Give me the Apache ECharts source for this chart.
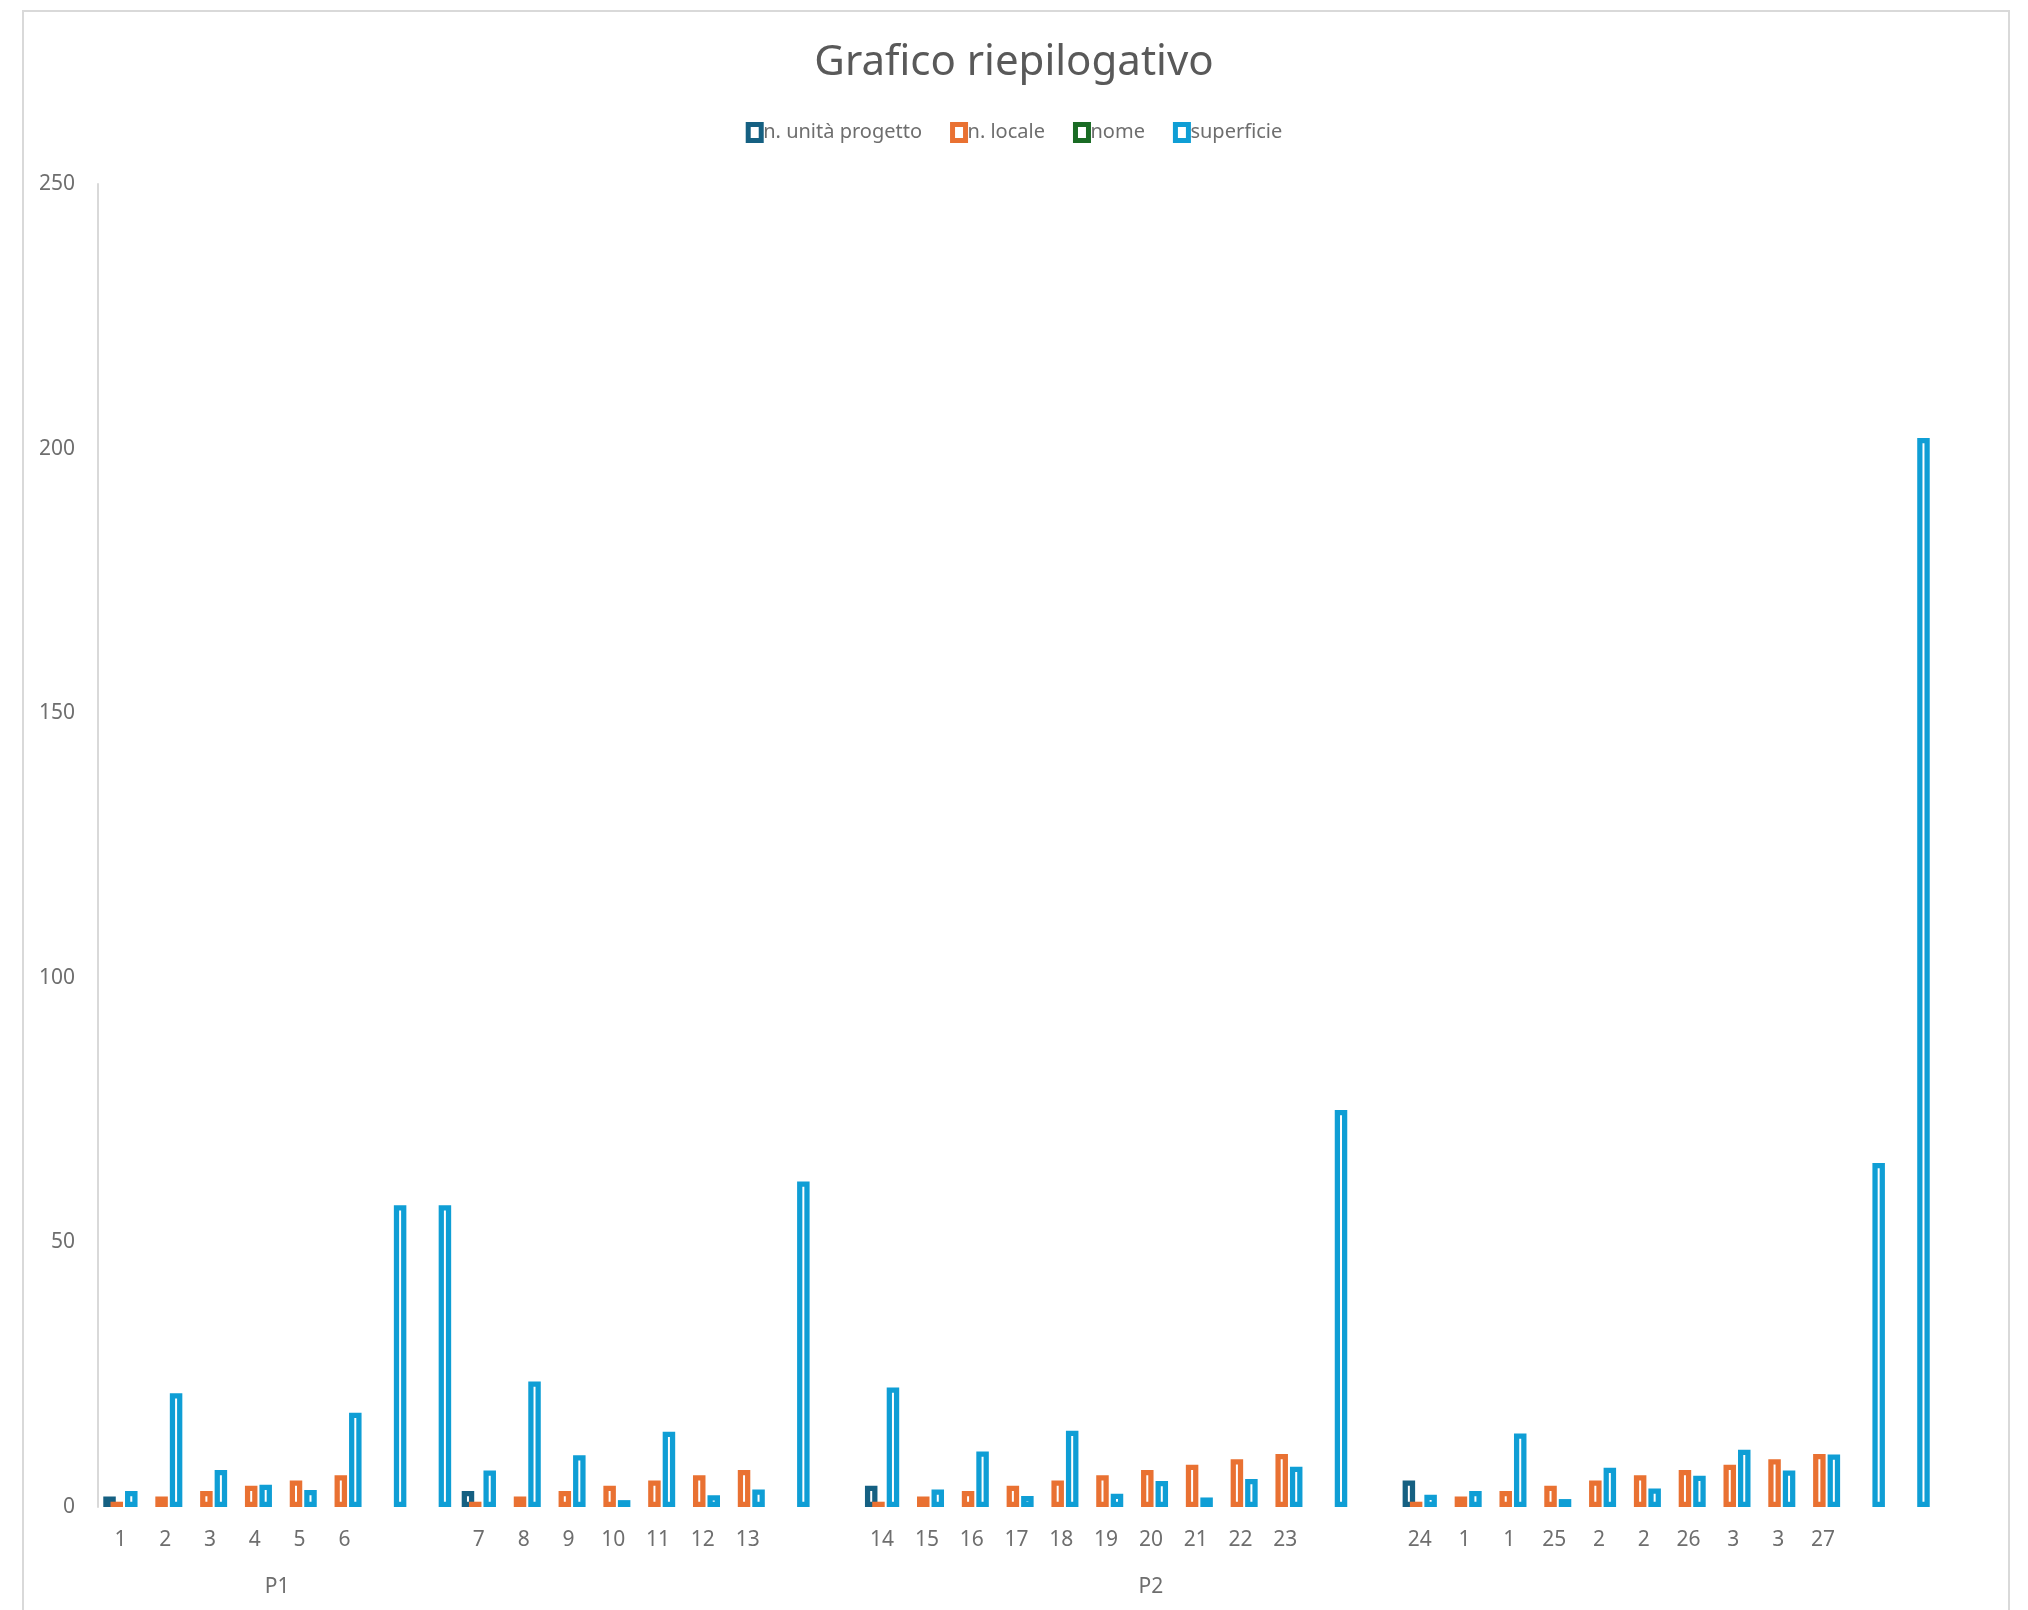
<!DOCTYPE html>
<html>
<head>
<meta charset="utf-8">
<script src="https://cdn.jsdelivr.net/npm/echarts@6/dist/echarts.min.js"></script>
<style>
  html, body { margin: 0; padding: 0; background: #fff; }
  #chart { width: 2028px; height: 1610px; }
</style>
</head>
<body>
<div id="chart"></div>
<script>
// category labels (inner level of the axis)
const categories = [
  "1", "2", "3", "4", "5", "6", "", "",
  "7", "8", "9", "10", "11", "12", "13", "", "",
  "14", "15", "16", "17", "18", "19", "20", "21", "22", "23", "", "",
  "24", "1", "1", "25", "2", "2", "26", "3", "3", "27", "", ""
];

// outer level of the axis: label + first/last category index
const groupLabels = ["P1", "P2"];
const groupSpans = [[0, 7], [8, 38]];

const seriesNames = ["n. unità progetto", "n. locale", "nome", "superficie"];
const seriesColors = ["#156082", "#E97132", "#196B24", "#0F9ED5"];

const unitaValues = [
  2, null, null, null, null, null, null, null,
  3, null, null, null, null, null, null, null, null,
  4, null, null, null, null, null, null, null, null, null, null, null,
  5, null, null, null, null, null, null, null, null, null, null, null
];
const localeValues = [
  1, 2, 3, 4, 5, 6, null, null,
  1, 2, 3, 4, 5, 6, 7, null, null,
  1, 2, 3, 4, 5, 6, 7, 8, 9, 10, null, null,
  1, 2, 3, 4, 5, 6, 7, 8, 9, 10, null, null
];
// "nome" is text in the sheet, nothing gets drawn
const nomeValues = [];
const superficieValues = [
  3, 21.5, 7, 4.2, 3.2, 17.8, 57, 57,
  6.9, 23.7, 9.8, 1.3, 14.2, 2.2, 3.3, 61.5, null,
  22.6, 3.3, 10.5, 2.1, 14.4, 2.5, 4.9, 1.8, 5.3, 7.6, 75, null,
  2.3, 3, 13.9, 1.5, 7.4, 3.5, 5.9, 10.8, 6.9, 9.9, 65, 202
];

const yTicks = { min: 0, max: 250, interval: 50 };

const groupCenters = groupSpans.map((s) => (s[0] + s[1]) / 2);
const allValues = [unitaValues, localeValues, nomeValues, superficieValues];

const titleColor = "#595959";
const labelColor = "#6e6e6e";
const fontFamily = "'Noto Sans', 'Open Sans', sans-serif";

const chart = echarts.init(document.getElementById("chart"));

const option = {
  animation: false,
  textStyle: { fontFamily: fontFamily },
  title: {
    text: "Grafico riepilogativo",
    left: "center",
    top: 42,
    padding: 0,
    textStyle: {
      color: titleColor,
      fontSize: 42,
      fontWeight: "normal",
      fontFamily: fontFamily,
    },
  },
  legend: {
    top: 122,
    left: "center",
    padding: 0,
    icon: "rect",
    itemWidth: 13,
    itemHeight: 16,
    itemGap: 28,
    itemStyle: { borderWidth: 5 },
    textStyle: { color: labelColor, fontSize: 20, padding: [0, 0, 0, -3] },
    data: seriesNames,
  },
  grid: {
    left: 98,
    right: 93,
    top: 184,
    bottom: 103,
  },
  xAxis: [
    {
      type: "category",
      data: categories,
      axisLine: { show: false },
      axisTick: { show: false },
      axisLabel: {
        interval: 0,
        margin: 23,
        color: labelColor,
        fontSize: 21,
      },
    },
    {
      // outer level labels (P1, P2)
      type: "value",
      gridIndex: 0,
      position: "bottom",
      offset: 50,
      min: -0.5,
      max: categories.length - 0.5,
      axisLine: { show: false },
      axisTick: { show: false },
      splitLine: { show: false },
      axisLabel: {
        customValues: groupCenters,
        margin: 20,
        color: labelColor,
        fontSize: 21,
        formatter: (v) => {
          const i = groupCenters.indexOf(v);
          return i >= 0 ? groupLabels[i] : "";
        },
      },
    },
  ],
  yAxis: {
    type: "value",
    min: yTicks.min,
    max: yTicks.max,
    interval: yTicks.interval,
    axisLine: {
      show: true,
      onZero: false,
      lineStyle: { color: "#d9d9d9", width: 2 },
    },
    axisTick: { show: false },
    splitLine: { show: false },
    axisLabel: { color: labelColor, fontSize: 21, margin: 23 },
  },
  graphic: [
    {
      type: "rect",
      silent: true,
      shape: { x: 23, y: 11, width: 1986, height: 1640 },
      style: { fill: "none", stroke: "#d9d9d9", lineWidth: 2 },
    },
  ],
  series: seriesNames.map((name, i) => ({
    name: name,
    type: "bar",
    xAxisIndex: 0,
    data: allValues[i],
    barWidth: 12.5,
    barGap: "-42%",
    color: seriesColors[i],
    itemStyle: {
      color: "#fff",
      borderColor: seriesColors[i],
      borderWidth: 5.25,
    },
    emphasis: { disabled: true },
  })),
};

chart.setOption(option);
</script>
</body>
</html>
